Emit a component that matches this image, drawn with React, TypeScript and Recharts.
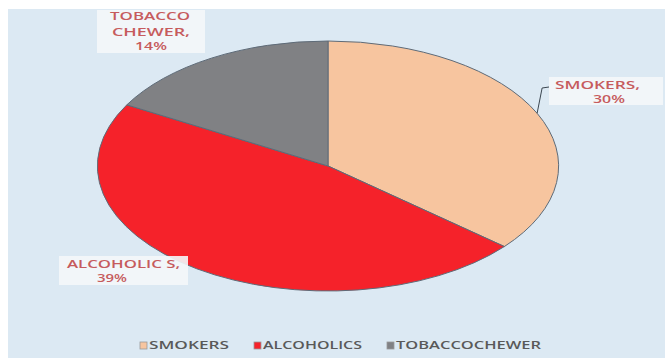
import React from "react";
import { PieChart, Pie, Cell, Legend } from "recharts";

const CATEGORIES = ["SMOKERS", "ALCOHOLICS", "TOBACCOCHEWER"];
const VALUES = [30, 39, 14];
const LABEL_NAMES = [["SMOKERS,"], ["ALCOHOLIC S,"], ["TOBACCO", "CHEWER,"]];

const COLORS = ["#F7C59F", "#F5222A", "#808184"];

const W = 657;
const H = 349;
const CX = 320;
const CY = 157;
const R = 125;
// the original pie is stretched sideways into an ellipse
const STRETCH = 1.845;

// callout boxes, placed by hand like in the source chart
// box: x, y, w, h ; lines: x, baseline, width
const CALLOUTS = [
  { box: [541, 68, 114, 28], lines: [[547, 80, 85], [585, 94, 32]], leader: true },
  { box: [51, 247, 129, 29], lines: [[59, 259, 113], [89, 273, 30]], leader: false },
  { box: [89, 1, 108, 43], lines: [[102, 11, 80], [104, 27, 78], [127, 41, 32]], leader: false },
];

const LEGEND_X = [132, 246, 379];
const LEGEND_TEXT_W = [80, 99, 145];

const data = CATEGORIES.map((name, i) => ({ name, value: VALUES[i] }));

const labelColor = "#C65B5D";
const font = "'Open Sans', 'Liberation Sans', sans-serif";

function renderLabel(props: any) {
  const { cx, cy, midAngle, outerRadius, index, value } = props;
  const c = CALLOUTS[index];
  if (!c) return null;
  const texts = [...LABEL_NAMES[index], `${value}%`];
  const [bx, by, bw, bh] = c.box;
  const rad = (midAngle * Math.PI) / 180;
  const sx = cx + outerRadius * STRETCH * Math.cos(rad);
  const sy = cy - outerRadius * Math.sin(rad);
  return (
    <g key={`lbl-${index}`}>
      {c.leader && (
        <polyline
          points={`${sx},${sy} ${sx + 5},${by + 11} ${bx},${by + 10}`}
          fill="none"
          stroke="#3B4650"
          strokeWidth={1}
        />
      )}
      <rect x={bx} y={by} width={bw} height={bh} fill="#F4F7FA" fillOpacity={0.9} />
      {texts.map((t, j) => {
        const [tx, ty, tw] = c.lines[j];
        return (
          <text
            key={j}
            x={tx}
            y={ty}
            textLength={tw}
            lengthAdjust="spacingAndGlyphs"
            fill={labelColor}
            fontSize={11}
            fontWeight={600}
            fontFamily={font}
          >
            {t}
          </text>
        );
      })}
    </g>
  );
}

function renderLegend(props: any) {
  // keep the series order of the data, not the legend's own sort
  const payload = [...(props.payload || [])].sort(
    (a: any, b: any) => CATEGORIES.indexOf(a.value) - CATEGORIES.indexOf(b.value)
  );
  return (
    <svg width={W} height={20} style={{ display: "block" }}>
      {payload.map((p: any, i: number) => (
        <g key={i}>
          <rect x={LEGEND_X[i]} y={7} width={7} height={7} fill={p.color} stroke="#9A9A9A" strokeWidth={0.8} />
          <text
            x={LEGEND_X[i] + 9}
            y={14}
            textLength={LEGEND_TEXT_W[i]}
            lengthAdjust="spacingAndGlyphs"
            fill="#595959"
            fontSize={10.5}
            fontWeight={600}
            fontFamily={font}
          >
            {p.value}
          </text>
        </g>
      ))}
    </svg>
  );
}

export default function App() {
  return (
    <div style={{ position: "relative", width: 665, height: 358, background: "#FFFFFF", overflow: "hidden" }}>
      <style>{`
        body { margin: 0; overflow: hidden; }
        .recharts-pie .recharts-sector {
          transform: scaleX(${STRETCH});
          transform-origin: ${CX}px ${CY}px;
          vector-effect: non-scaling-stroke;
        }
      `}</style>
      <div style={{ position: "absolute", left: 8, top: 9, width: W, height: H, background: "#DCE9F3" }}>
        <PieChart width={W} height={H} margin={{ top: 0, right: 0, bottom: 0, left: 0 }}>
          <Pie
            data={data}
            dataKey="value"
            nameKey="name"
            cx={CX}
            cy={CY}
            outerRadius={R}
            startAngle={90}
            endAngle={-270}
            stroke="#5E6B78"
            strokeWidth={1}
            label={renderLabel}
            labelLine={false}
            isAnimationActive={false}
          >
            {data.map((d, i) => (
              <Cell key={d.name} fill={COLORS[i]} />
            ))}
          </Pie>
          <Legend
            content={renderLegend}
            wrapperStyle={{ left: 0, top: 326, width: W, height: 20 }}
          />
        </PieChart>
      </div>
    </div>
  );
}
